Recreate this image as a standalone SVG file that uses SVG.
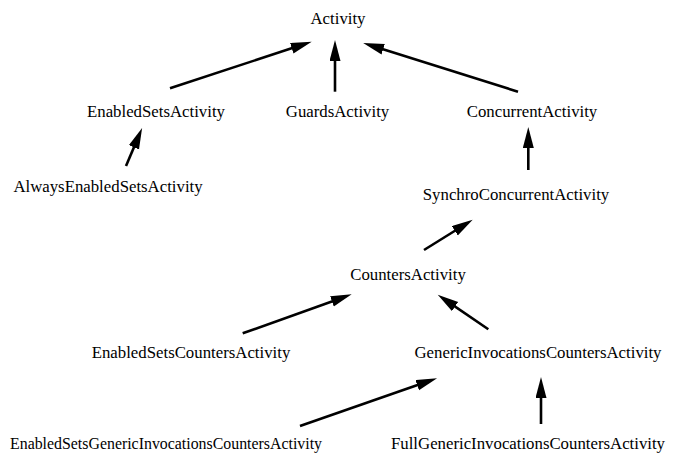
<svg xmlns="http://www.w3.org/2000/svg" width="675" height="461" viewBox="0 0 675 461">
<style>
text{font-family:"Liberation Serif","Times New Roman",serif;font-size:16.8px;fill:#000;text-anchor:middle}
.c line{stroke:#000;stroke-width:2.6;marker-end:url(#ah)}
</style>
<defs>
<marker id="ah" markerUnits="userSpaceOnUse" markerWidth="22" markerHeight="12" refX="11" refY="5.5" orient="auto">
<path d="M0,0 L21,5.5 L0,11 z" fill="#000"/>
</marker>
</defs>
<rect width="675" height="461" fill="#fff"/>
<g id="n-activity"><text x="338" y="24">Activity</text></g>
<g id="n-enabledsets"><text x="156" y="117">EnabledSetsActivity</text></g>
<g id="n-guards"><text x="337.5" y="117">GuardsActivity</text></g>
<g id="n-concurrent"><text x="532" y="117">ConcurrentActivity</text></g>
<g id="n-always"><text x="108" y="192">AlwaysEnabledSetsActivity</text></g>
<g id="n-synchro"><text x="516" y="200">SynchroConcurrentActivity</text></g>
<g id="n-counters"><text x="408" y="279.5">CountersActivity</text></g>
<g id="n-escounters"><text x="191" y="358">EnabledSetsCountersActivity</text></g>
<g id="n-generic"><text x="538" y="358">GenericInvocationsCountersActivity</text></g>
<g id="n-esgeneric"><text x="166" y="449" textLength="312" lengthAdjust="spacingAndGlyphs">EnabledSetsGenericInvocationsCountersActivity</text></g>
<g id="n-full"><text x="528" y="449">FullGenericInvocationsCountersActivity</text></g>
<g class="c" id="connectors">
<line x1="170" y1="88.3" x2="302.2" y2="44.8"/>
<line x1="335" y1="91.7" x2="335" y2="50"/>
<line x1="518" y1="91.7" x2="372.7" y2="46"/>
<line x1="126" y1="166" x2="138.2" y2="137.2"/>
<line x1="528.3" y1="170" x2="528.3" y2="137"/>
<line x1="424" y1="250" x2="464.2" y2="225"/>
<line x1="242.7" y1="333.3" x2="342.3" y2="297.7"/>
<line x1="488.3" y1="329.3" x2="446" y2="300.4"/>
<line x1="300" y1="426" x2="427.6" y2="381.5"/>
<line x1="541" y1="424" x2="541" y2="387"/>
</g>
</svg>
